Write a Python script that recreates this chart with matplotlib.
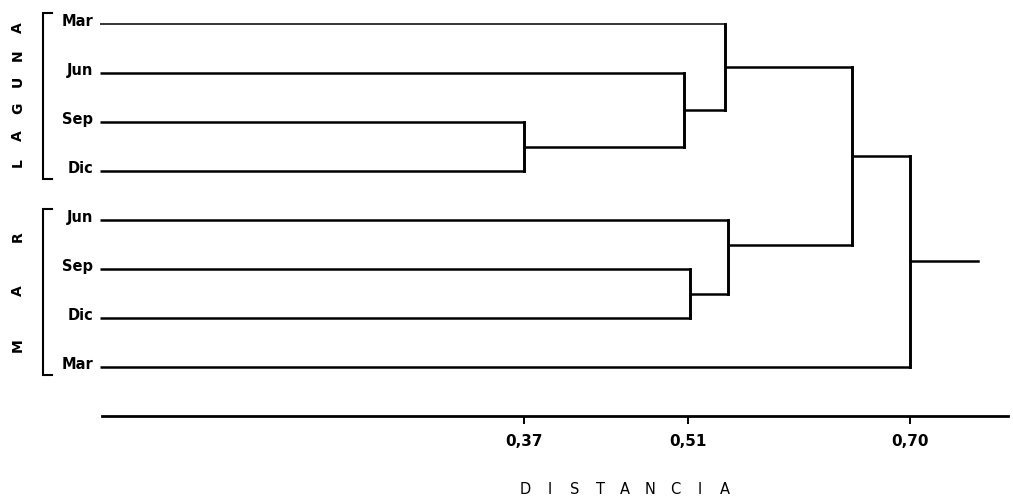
import matplotlib.pyplot as plt

# leaves from top to bottom, and the group each one belongs to
leaf_labels = ["Mar", "Jun", "Sep", "Dic", "Jun", "Sep", "Dic", "Mar"]
groups = [("LAGUNA", 0, 3), ("MAR", 4, 7)]

# merges: (left node, right node, distance); nodes 0-7 are the leaves
merges = [
    (2, 3, 0.370),
    (1, 8, 0.507),
    (0, 9, 0.542),
    (5, 6, 0.512),
    (4, 11, 0.544),
    (10, 12, 0.650),
    (13, 7, 0.700),
]
root_end = 0.758

tick_values = [0.37, 0.51, 0.70]
tick_labels = ["0,37", "0,51", "0,70"]
axis_title = "DISTANCIA"

# the drawing is hand made: the Mar(Jun..Dic) link leaves at a third, not the middle
attach_frac = {12: 0.34}

fig = plt.figure(figsize=(10.13, 4.99), dpi=100)
ax = fig.add_axes([0, 1 - 416 / 499, 1, 416 / 499])
ax.set_xlim(-90 / 1172, (1013 - 90) / 1172)
ax.set_ylim(8.0, -24 / 49)

lw = 1.8
leaf_start = 0.0085
pos_y = {i: float(i) for i in range(len(leaf_labels))}
pos_x = {i: leaf_start for i in range(len(leaf_labels))}

for k, (a, b, d) in enumerate(merges):
    node = len(leaf_labels) + k
    for c in (a, b):
        w = 1.1 if (c == 0) else lw
        ax.plot([pos_x[c], d], [pos_y[c], pos_y[c]], color="black", lw=w,
                solid_capstyle="butt")
    ax.plot([d, d], [pos_y[a], pos_y[b]], color="black", lw=lw + 0.3,
            solid_capstyle="projecting")
    f = attach_frac.get(node, 0.5)
    pos_y[node] = pos_y[a] + f * (pos_y[b] - pos_y[a])
    pos_x[node] = d

top = len(leaf_labels) + len(merges) - 1
ax.plot([pos_x[top], root_end], [pos_y[top], pos_y[top]], color="black", lw=lw)

# leaf labels
for i, lab in enumerate(leaf_labels):
    ax.text(0.0028, i - 0.06, lab, ha="right", va="center", fontsize=10.5,
            fontweight="bold")

# group brackets and vertical lettering
bx, tip = -0.0401, -0.0324
for name, a, b in groups:
    y0, y1 = a - 0.23, b + 0.17
    ax.plot([tip, bx, bx, tip], [y0, y0, y1, y1], color="black", lw=1.5,
            solid_joinstyle="miter")
    n = len(name)
    span = 2.74 if n > 3 else 2.22
    mid = (a + b) / 2 - 0.05
    for j, ch in enumerate(name):
        yy = mid + span / 2 - j * span / (n - 1)
        ax.text(-0.0615, yy, ch, rotation=90, ha="center", va="center",
                fontsize=10, fontweight="bold")

# distance axis
for s in ["top", "right", "left"]:
    ax.spines[s].set_visible(False)
ax.spines["bottom"].set_linewidth(2.0)
ax.spines["bottom"].set_bounds(0.0102, 0.7833)
ax.set_xticks(tick_values)
ax.set_xticklabels(tick_labels, fontsize=11, fontweight="bold")
ax.tick_params(axis="x", direction="out", length=6, width=1.4, pad=7)
ax.set_yticks([])

# spaced title under the axis
title_x0 = (525 - 90) / 1172
pitch = 25 / 1172
for j, ch in enumerate(axis_title):
    ax.text(title_x0 + j * pitch, 9.49, ch, ha="center", va="center",
            fontsize=10.5, fontweight="medium", clip_on=False)

fig.savefig("out.png", dpi=100)
